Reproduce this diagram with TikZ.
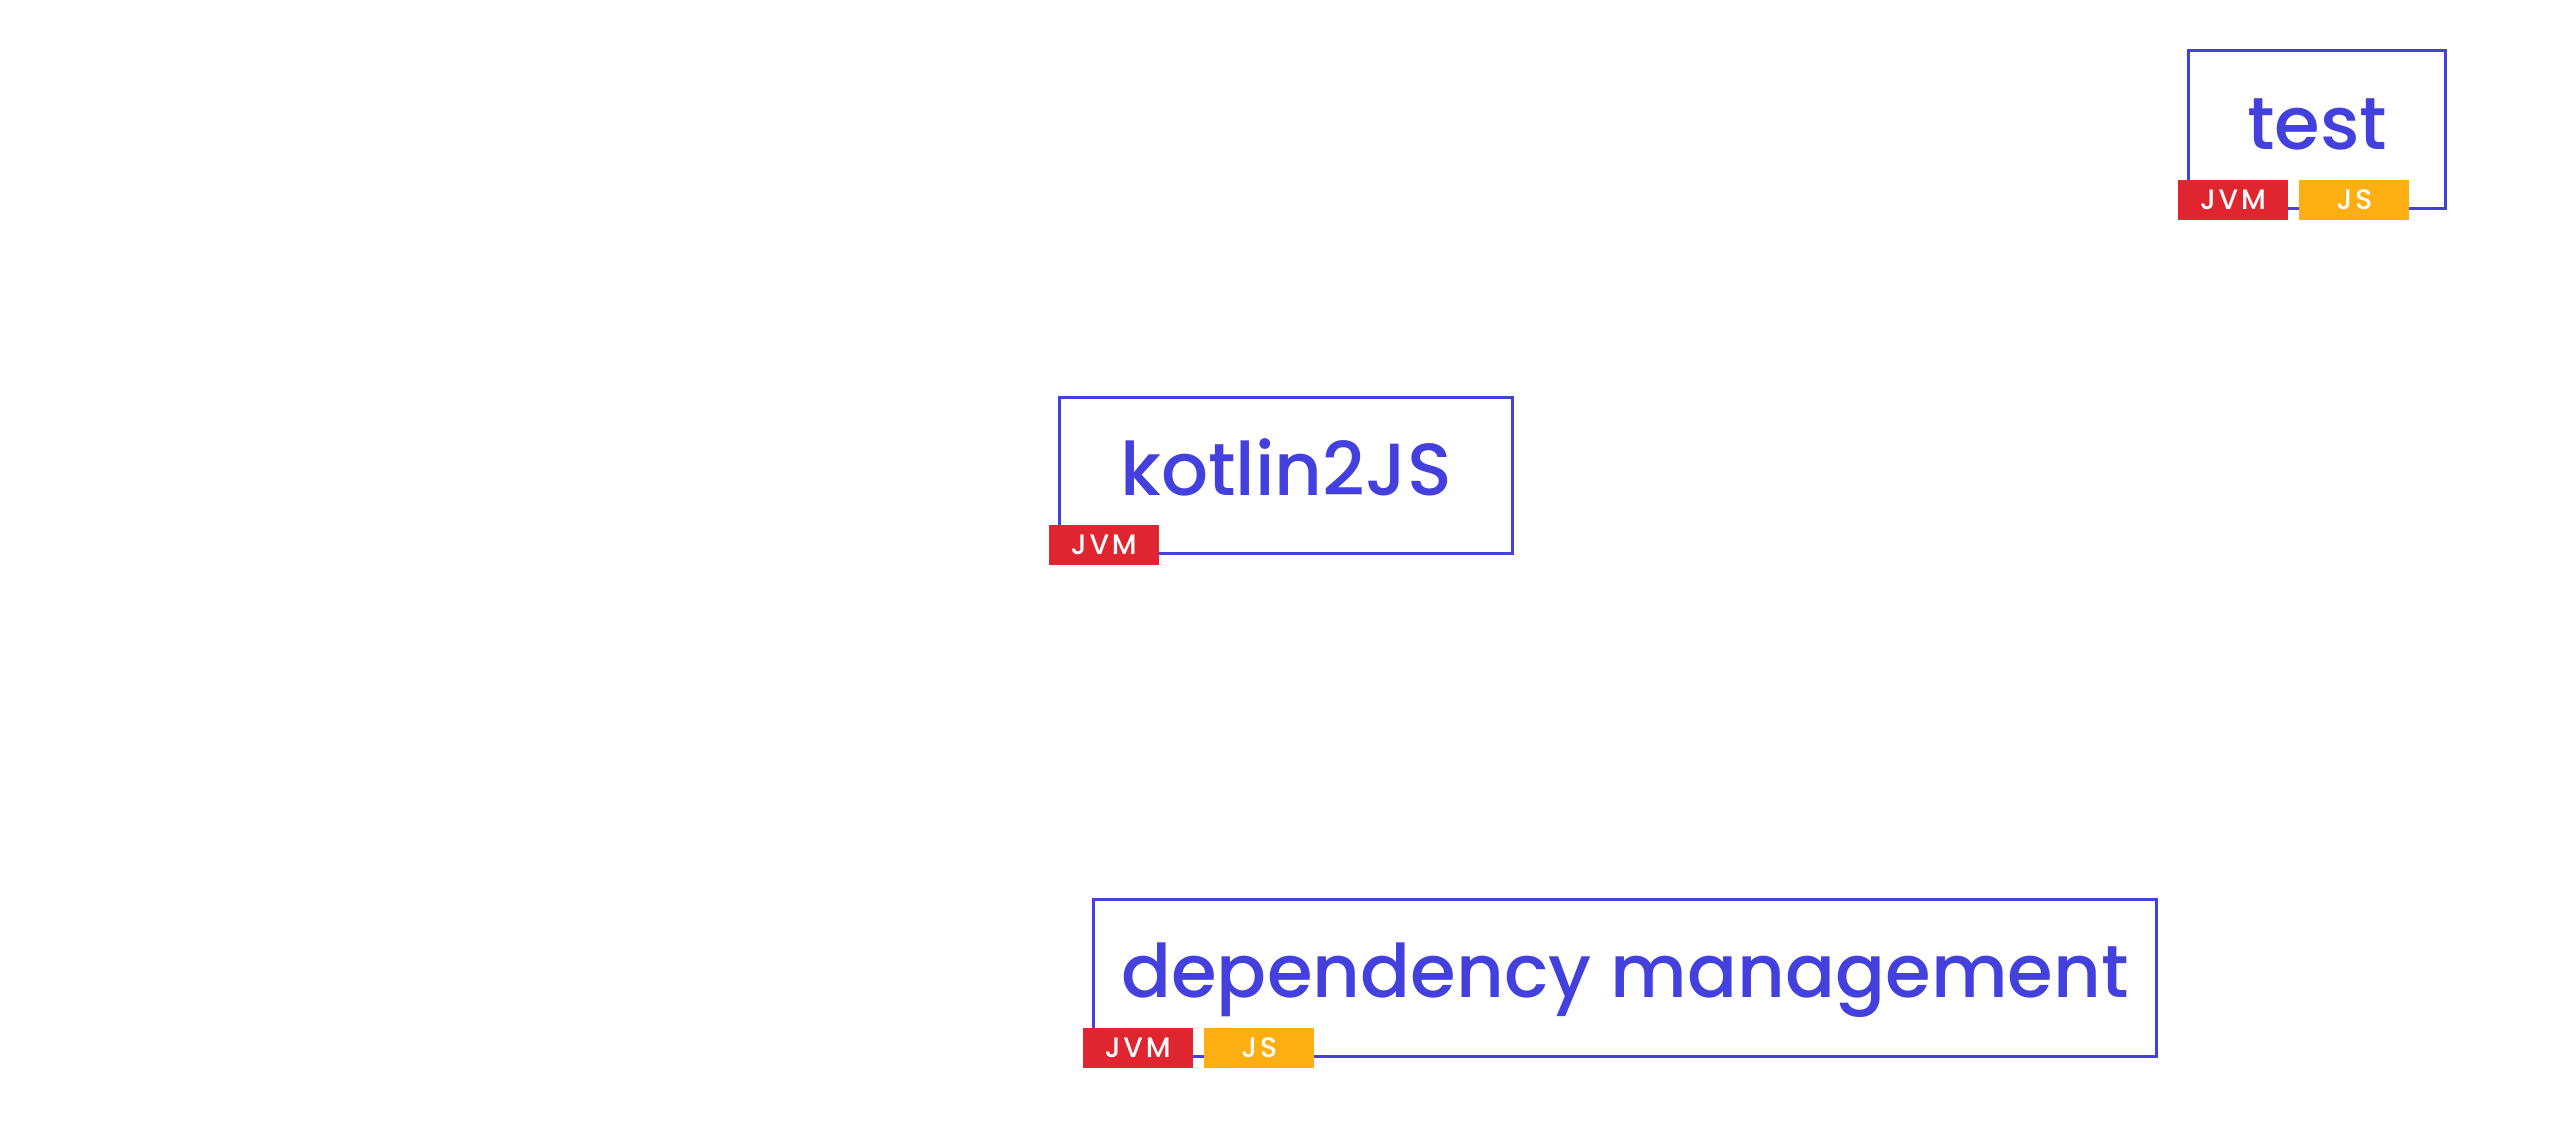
\documentclass[tikz,border=0pt]{standalone}
\usepackage{fontspec}
\setmainfont{Poppins}[UprightFont=* Medium]
\newfontfamily\tagfont{Poppins}[UprightFont=* Medium,LetterSpace=10]
\usetikzlibrary{positioning}
\definecolor{kblue}{HTML}{4340DE}
\definecolor{kred}{HTML}{DF2530}
\definecolor{kyellow}{HTML}{FDAF12}
\tikzset{box/.style={draw=kblue,line width=0.03cm,text=kblue,font=\fontsize{21}{24}\selectfont,
    text height=0.39cm,text depth=0pt,inner sep=0pt,outer sep=0pt},
  tagbox/.style={minimum width=1.1cm,minimum height=0.4cm,inner sep=0pt,text=white,
    font=\tagfont\fontsize{8}{8}\selectfont},
  jvmtag/.style={tagbox,fill=kred},
  jstag/.style={tagbox,fill=kyellow}}

\begin{document}
\begin{tikzpicture}[x=0.01cm,y=-0.01cm]
\useasboundingbox (0,0) rectangle (2560,1120);
% module boxes
\node[box,minimum width=2.56cm,minimum height=1.57cm] (test) at (2317,129.5) {test};
\node[box,minimum width=4.52cm,minimum height=1.55cm] (k2js) at (1286,475.5) {kotlin2JS};
\node[box,minimum width=10.62cm,minimum height=1.56cm] (deps) at (1625,978) {dependency management};
% platform tags
\node[jvmtag] (testjvm) at ([xshift=0.44cm,yshift=0.08cm]test.south west) {JVM};
\node[jstag,right=0.1cm of testjvm] (testjs) {JS};
\node[jvmtag] (k2jsjvm) at ([xshift=0.44cm,yshift=0.08cm]k2js.south west) {JVM};
\node[jvmtag] (depsjvm) at ([xshift=0.44cm,yshift=0.08cm]deps.south west) {JVM};
\node[jstag,right=0.1cm of depsjvm] (depsjs) {JS};
\end{tikzpicture}
\end{document}
